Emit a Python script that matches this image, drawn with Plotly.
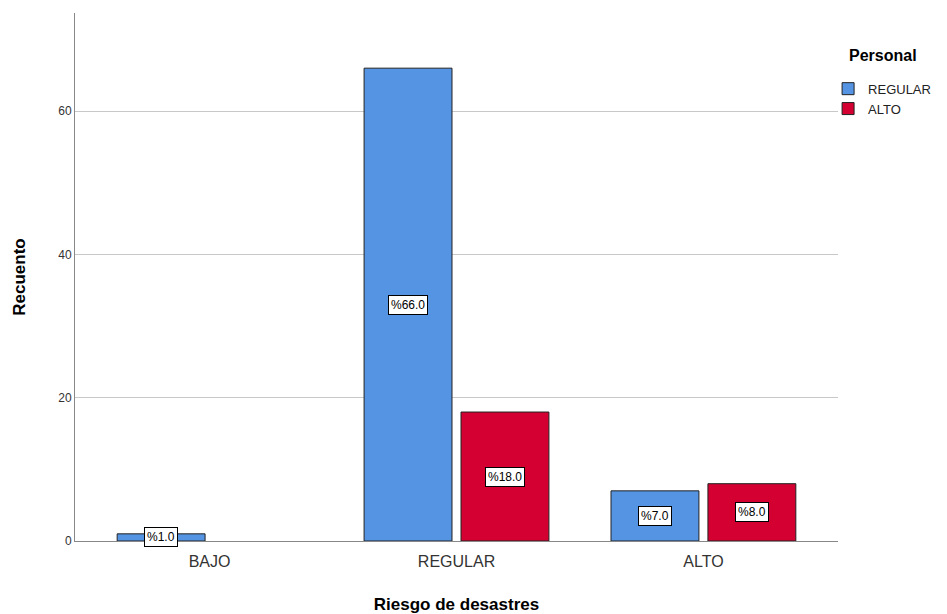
import plotly.graph_objects as go

categories = ["BAJO", "REGULAR", "ALTO"]
series_names = ["REGULAR", "ALTO"]
regular_vals = [1, 66, 7]
alto_vals = [None, 18, 8]
regular_labels = ["%1.0", "%66.0", "%7.0"]
alto_labels = [None, "%18.0", "%8.0"]
legend_title = "Personal"

colors = ["#5594E2", "#D30031"]
font = "Liberation Sans, Arial, sans-serif"

fig = go.Figure()
for name, vals, col in zip(series_names, [regular_vals, alto_vals], colors):
    fig.add_trace(go.Bar(
        x=categories, y=vals, name=name,
        marker=dict(color=col, line=dict(color="#222222", width=1)),
    ))

offsets = [-48.5, 48.5]
annotations = []
for vals, labels, off in zip([regular_vals, alto_vals], [regular_labels, alto_labels], offsets):
    for c, v, t in zip(categories, vals, labels):
        if v is None:
            continue
        annotations.append(dict(
            x=c, y=v / 2, xref="x", yref="y", text=t, showarrow=False,
            xshift=off, font=dict(family=font, size=12, color="#000000"),
            bgcolor="#ffffff", bordercolor="#000000", borderwidth=1, borderpad=2,
        ))
annotations.append(dict(
    x=1.012, y=0.92, xref="paper", yref="paper", xanchor="left", yanchor="middle",
    text="<b>" + legend_title + "</b>", showarrow=False,
    font=dict(family=font, size=16, color="#000000"),
))

fig.update_layout(
    width=939, height=606,
    margin=dict(l=67, r=109, t=5, b=73, autoexpand=False),
    paper_bgcolor="white", plot_bgcolor="white",
    barmode="group", bargap=0.215, bargroupgap=0.093,
    font=dict(family=font, color="#333333"),
    annotations=annotations,
    showlegend=True,
    legend=dict(
        x=0.987, y=0.885, xanchor="left", yanchor="top",
        font=dict(size=13, color="#222222"),
        tracegroupgap=0, itemwidth=30, bgcolor="rgba(0,0,0,0)",
    ),
)
fig.update_xaxes(
    range=[-0.545, 2.545], showline=True, linecolor="#888888", linewidth=1,
    ticks="", tickfont=dict(size=16, color="#333333"), showgrid=False, automargin=False,
    ticklabelstandoff=6,
    title=dict(text="<b>Riesgo de desastres</b>", font=dict(size=17, color="#000000"), standoff=36),
)
fig.update_yaxes(
    range=[0, 73.7], tickvals=[0, 20, 40, 60], showline=True, linecolor="#888888", linewidth=1,
    showgrid=True, gridcolor="#c8c8c8", gridwidth=1, zeroline=False, automargin=False,
    ticks="", tickfont=dict(size=12, color="#333333"),
    title=dict(text="<b>Recuento</b>", font=dict(size=17, color="#000000"), standoff=28),
)

fig.write_html("out.html")
